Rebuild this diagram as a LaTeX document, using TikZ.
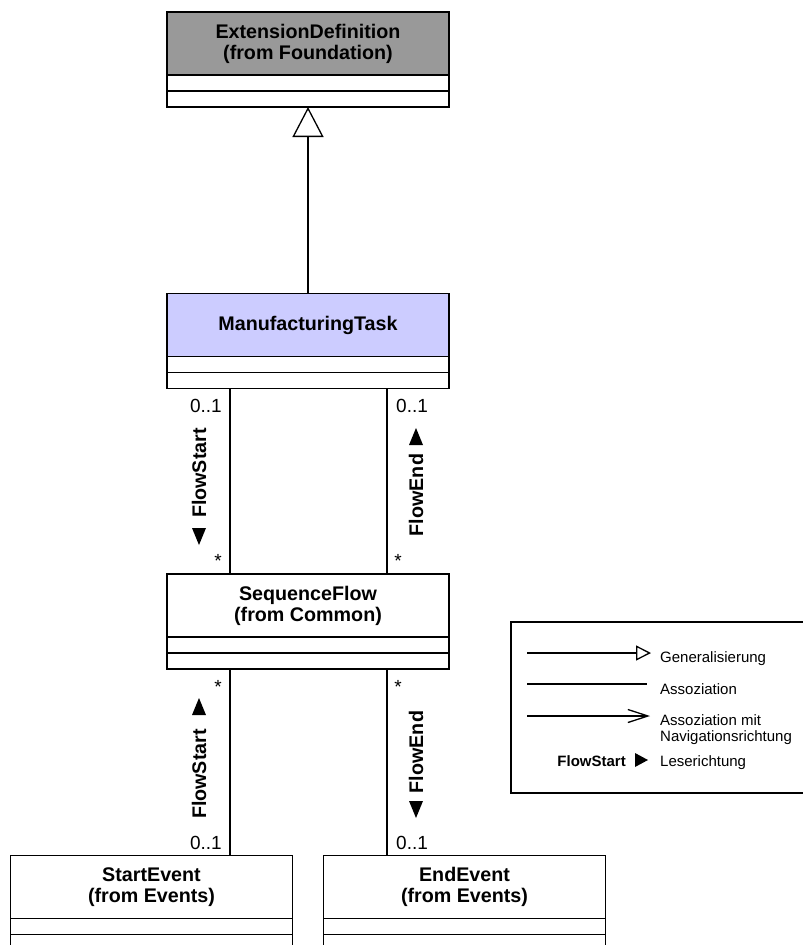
\documentclass[tikz,border=0pt]{standalone}
\usepackage{fontspec}
\setmainfont{Liberation Sans}
\usetikzlibrary{arrows.meta}
\definecolor{hdrgray}{RGB}{153,153,153}
\definecolor{hdrblue}{RGB}{204,204,255}
\begin{document}
\begin{tikzpicture}[x=1pt,y=-1pt,
  frame/.style={draw=black, line width=1.3pt, outer sep=0pt},
  head/.style={frame, minimum width=282pt, minimum height=63pt, inner sep=0pt,
    align=center, font=\fontsize{19.7}{21}\selectfont\bfseries},
  comp/.style={frame, fill=white, minimum width=282pt, minimum height=16pt,
    inner sep=0pt, anchor=north},
  link/.style={line width=1.3pt},
  mult/.style={font=\fontsize{19}{22}\selectfont, inner sep=0pt},
  role/.style={font=\fontsize{19.7}{22}\selectfont\bfseries, rotate=90, inner sep=0pt},
  legtext/.style={font=\fontsize{15}{16.5}\selectfont, inner sep=0pt, align=left},
]
\useasboundingbox (0,0) rectangle (803,945);

% classes: name compartment plus two empty compartments
\node[head, fill=hdrgray] (ext) at (308,43.5) {ExtensionDefinition\\(from Foundation)};
\node[comp] (ext-a) at (ext.south) {};
\node[comp] (ext-b) at (ext-a.south) {};

\node[head, fill=hdrblue] (mt) at (308,325) {ManufacturingTask};
\node[comp] (mt-a) at (mt.south) {};
\node[comp] (mt-b) at (mt-a.south) {};

\node[head, fill=white] (sf) at (308,605.5) {SequenceFlow\\(from Common)};
\node[comp] (sf-a) at (sf.south) {};
\node[comp] (sf-b) at (sf-a.south) {};

\node[head, fill=white] (se) at (151.5,887) {StartEvent\\(from Events)};
\node[comp] (se-a) at (se.south) {};
\node[comp, minimum height=40pt] (se-b) at (se-a.south) {};

\node[head, fill=white] (ee) at (464.5,887) {EndEvent\\(from Events)};
\node[comp] (ee-a) at (ee.south) {};
\node[comp, minimum height=40pt] (ee-b) at (ee-a.south) {};

% generalization
\draw[link, -{Triangle[open, length=30pt, width=31pt, line width=1.3pt]}] (mt.north) -- (ext-b.south);

% associations
\coordinate (lx) at (230,0);
\coordinate (rx) at (387,0);
\draw[link] (mt-b.south -| lx) -- (sf.north -| lx);
\draw[link] (mt-b.south -| rx) -- (sf.north -| rx);
\draw[link] (sf-b.south -| lx) -- (se.north -| lx);
\draw[link] (sf-b.south -| rx) -- (ee.north -| rx);

% multiplicities
\node[mult, anchor=base east] (m1) at (222,412) {0..1};
\node[mult, anchor=base west] (m2) at (396,412) {0..1};
\node[mult, anchor=base] (m3) at (218,567) {*};
\node[mult, anchor=base] (m4) at (398,567) {*};
\node[mult, anchor=base] (m5) at (218,693) {*};
\node[mult, anchor=base] (m6) at (398,693) {*};
\node[mult, anchor=base east] (m7) at (222,849) {0..1};
\node[mult, anchor=base west] (m8) at (396,849) {0..1};

% role names with reading direction
\node[role] (r1) at (199,473) {FlowStart};
\fill (192,528) -- (206,528) -- (199,545) -- cycle;
\node[role] (r2) at (416,495) {FlowEnd};
\fill (409,445) -- (423,445) -- (416,428) -- cycle;
\node[role] (r3) at (199,774) {FlowStart};
\fill (192,715) -- (206,715) -- (199,698) -- cycle;
\node[role] (r4) at (416,752) {FlowEnd};
\fill (409,801) -- (423,801) -- (416,818) -- cycle;

% legend
\node[frame, fill=white, anchor=north west, minimum width=296pt, minimum height=171pt] (legend) at (511,622) {};
\coordinate (g0) at (527,653); \coordinate (g1) at (651,653);
\draw[link, -{Triangle[open, length=15pt, width=15pt, line width=1.3pt]}] (g0) -- (g1);
\coordinate (a0) at (527,684); \coordinate (a1) at (647,684);
\draw[link] (a0) -- (a1);
\coordinate (n0) at (527,716); \coordinate (n1) at (650,716);
\draw[link, -{Straight Barb[length=20pt, width=13pt, line width=1.3pt]}] (n0) -- (n1);
\node[legtext, anchor=base west] (t1) at (660,662) {Generalisierung};
\node[legtext, anchor=base west] (t2) at (660,694) {Assoziation};
\node[legtext, anchor=base west] (t3) at (660,725) {Assoziation mit};
\node[legtext, anchor=base west] (t4) at (660,741) {Navigationsrichtung};
\node[legtext, anchor=base west] (t5) at (660,766) {Leserichtung};
\node[legtext, anchor=base east, font=\fontsize{15}{16.5}\selectfont\bfseries] (t6) at (626,766) {FlowStart};
\fill (635,753) -- (648,760) -- (635,767) -- cycle;
\end{tikzpicture}
\end{document}
